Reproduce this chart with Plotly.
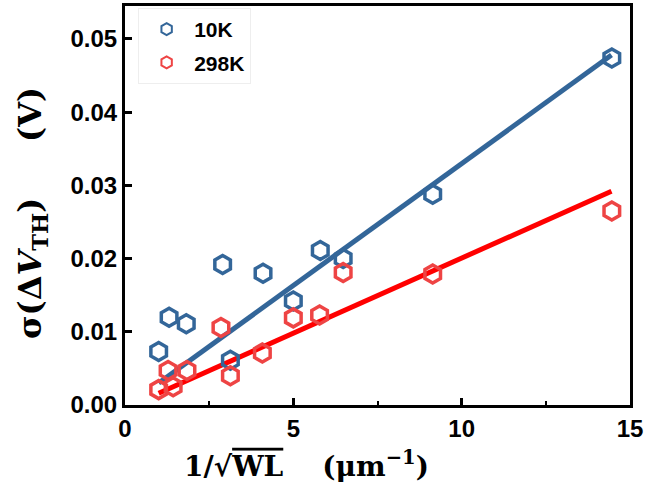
import plotly.graph_objects as go

# Data
x_10K = [1.0, 1.31, 1.82, 2.9, 3.13, 4.1, 5.0, 5.8, 6.48, 9.14, 14.46]
y_10K = [0.0073, 0.0120, 0.0111, 0.0192, 0.0061, 0.0180, 0.0142, 0.0211, 0.0200, 0.0288, 0.0474]

x_298K = [1.0, 1.28, 1.43, 1.84, 2.85, 3.13, 4.08, 5.0, 5.78, 6.48, 9.14, 14.46]
y_298K = [0.0021, 0.0047, 0.0025, 0.0047, 0.0106, 0.0040, 0.0071, 0.0119, 0.0123, 0.0181, 0.0179, 0.0265]

fit_x = [1.0, 14.45]
fit_10K = [0.0030, 0.0478]
fit_298K = [0.0016, 0.0292]

x_ticks = [0, 5, 10, 15]
y_ticks = [0.00, 0.01, 0.02, 0.03, 0.04, 0.05]

BLUE = "#336699"
RED = "#EE4444"
LINE_RED = "#FF0000"

fig = go.Figure()
fig.add_trace(go.Scatter(x=fit_x, y=fit_10K, mode="lines",
                         line=dict(color=BLUE, width=5), showlegend=False))
fig.add_trace(go.Scatter(x=fit_x, y=fit_298K, mode="lines",
                         line=dict(color=LINE_RED, width=5), showlegend=False))
fig.add_trace(go.Scatter(x=x_10K, y=y_10K, mode="markers", name="10K", legendgroup="a",
                         marker=dict(symbol="hexagon-open", size=18, color=BLUE,
                                     line=dict(width=3.5, color=BLUE))))
fig.add_trace(go.Scatter(x=x_298K, y=y_298K, mode="markers", name="298K", legendgroup="b",
                         marker=dict(symbol="hexagon-open", size=18, color=RED,
                                     line=dict(width=3.5, color=RED))))

tickfont = dict(family="Liberation Sans, Arial", size=24, color="black", weight="bold")
fig.update_xaxes(range=[0, 15], tickvals=x_ticks, ticktext=[str(v) for v in x_ticks],
                 ticks="inside", ticklen=7, tickwidth=3, tickcolor="black",
                 minor=dict(ticks="inside", ticklen=4, tickwidth=2, tickcolor="black", dtick=2.5),
                 showline=True, linewidth=3, linecolor="black", mirror=True,
                 showgrid=False, zeroline=False, tickfont=tickfont)
fig.update_yaxes(range=[0, 0.0545], tickvals=y_ticks, ticktext=[f"{v:.2f}" for v in y_ticks],
                 ticks="inside", ticklen=7, tickwidth=3, tickcolor="black",
                 showline=True, linewidth=3, linecolor="black", mirror=True,
                 showgrid=False, zeroline=False, tickfont=tickfont)

fig.add_annotation(text="<b>1/√<span style=\"text-decoration:overline\">WL</span>    (μm<sup>−1</sup>)</b>",
                   xref="paper", yref="paper", x=0.112, y=-0.15, xanchor="left", yanchor="middle",
                   showarrow=False, font=dict(family="DejaVu Serif, Liberation Serif", size=28, color="black"))
fig.add_annotation(text="<b>σ(Δ<i>V</i><sub>TH</sub>)     (V)</b>",
                   xref="paper", yref="paper", x=-0.183, y=0.48, xanchor="center", yanchor="middle",
                   textangle=-90, showarrow=False,
                   font=dict(family="DejaVu Serif, Liberation Serif", size=32, color="black"))

fig.update_layout(
    width=647, height=492,
    margin=dict(l=125, r=17, t=3, b=87),
    paper_bgcolor="white", plot_bgcolor="white",
    legend=dict(x=0.026, y=0.995, xanchor="left", yanchor="top",
                bgcolor="white", bordercolor="#EEEEEE", borderwidth=1,
                traceorder="grouped", tracegroupgap=3, itemwidth=45,
                font=dict(family="Liberation Sans, Arial", size=21, color="black", weight="bold"),
                itemsizing="constant"),
)

fig.write_html("out.html", config={"displayModeBar": False},
               post_script="document.body.style.margin='0px';")
